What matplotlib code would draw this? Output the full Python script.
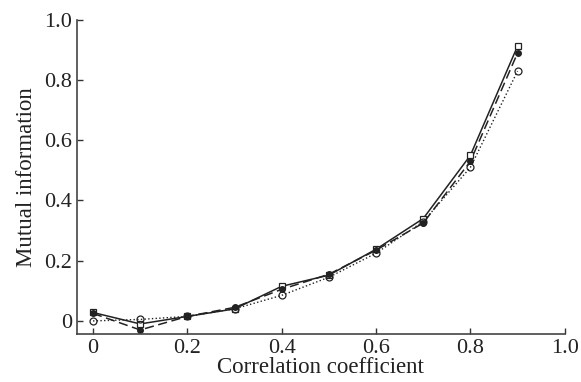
import matplotlib
matplotlib.use("Agg")
import matplotlib.pyplot as plt

plt.rcParams['font.family'] = ['Liberation Serif', 'DejaVu Serif']

corr = [0.0, 0.1, 0.2, 0.3, 0.4, 0.5, 0.6, 0.7, 0.8, 0.9]
mi_square = [0.028, -0.010, 0.015, 0.040, 0.115, 0.152, 0.238, 0.340, 0.550, 0.913]
mi_filled = [0.025, -0.030, 0.015, 0.045, 0.105, 0.155, 0.235, 0.325, 0.530, 0.890]
mi_open = [0.000, 0.005, 0.015, 0.040, 0.085, 0.145, 0.225, 0.330, 0.510, 0.830]

ticks = [0, 0.2, 0.4, 0.6, 0.8, 1.0]
tick_labels = ['0', '0.2', '0.4', '0.6', '0.8', '1.0']

fig = plt.figure(figsize=(5.81, 3.82), dpi=100)
ax = fig.add_axes([0.1325, 0.126, 0.972 - 0.1325, 0.948 - 0.126])

ax.plot(corr, mi_square, '-', color='#222222', lw=1.1, marker='s', ms=5,
        mfc='white', mec='#222222', mew=0.9)
ax.plot(corr, mi_filled, '--', color='#222222', lw=1.1, dashes=(6, 3), marker='o', ms=4,
        mfc='#222222', mec='#222222')
ax.plot(corr, mi_open, ':', color='#222222', lw=1.0, marker='o', ms=5,
        mfc='none', mec='#222222', mew=0.9)

ax.set_xlim(-0.034, 1.0)
ax.set_ylim(-0.043, 1.0)
ax.set_xticks(ticks)
ax.set_xticklabels(tick_labels)
ax.set_yticks(ticks)
ax.set_yticklabels(tick_labels)
ax.tick_params(direction='in', length=4, width=1, labelsize=16, colors='#333333',
               labelcolor='#222222')
ax.tick_params(axis='x', pad=4)
ax.spines['top'].set_visible(False)
ax.spines['right'].set_visible(False)
for s in ['left', 'bottom']:
    ax.spines[s].set_color('#444444')
    ax.spines[s].set_linewidth(1.2)

ax.set_xlabel('Correlation coefficient', fontsize=16.5, color='#222222', labelpad=-1)
ax.set_ylabel('Mutual information', fontsize=16.5, color='#222222', labelpad=5)

fig.savefig('out.png', dpi=100)
